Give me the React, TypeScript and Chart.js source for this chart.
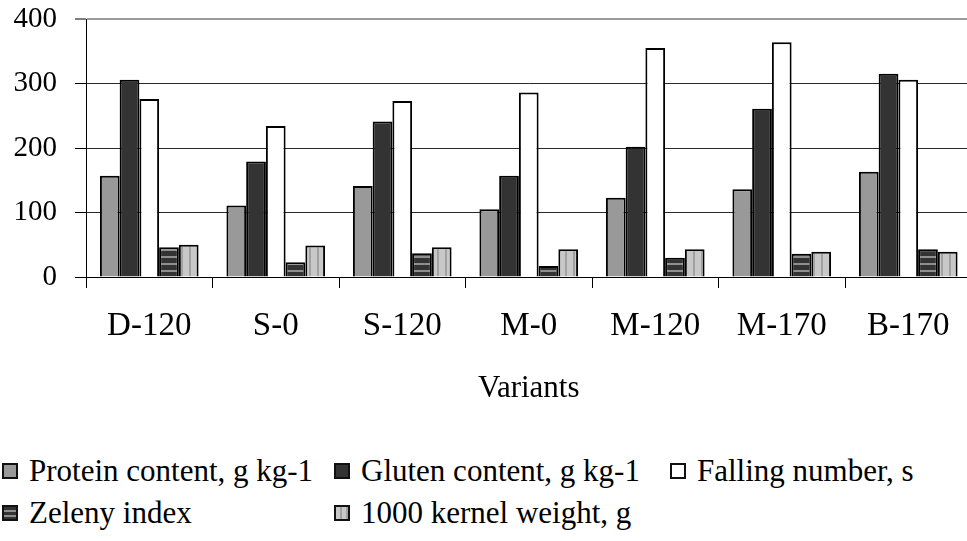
import React, { useEffect, useRef } from "react";
import { Chart, registerables } from "chart.js";

Chart.register(...registerables);

const categories = ["D-120", "S-0", "S-120", "M-0", "M-120", "M-170", "B-170"];
const protein = [157, 111, 141, 105, 123, 136, 163];
const gluten = [306, 179, 241, 157, 202, 261, 315];
const fallingNumber = [276, 234, 273, 286, 355, 364, 306];
const zeleny = [46, 23, 37, 17, 30, 36, 43];
const kernelWeight = [50, 49, 46, 43, 43, 39, 39];
const seriesNames = [
  "Protein content, g kg-1",
  "Gluten content, g kg-1",
  "Falling number, s",
  "Zeleny index",
  "1000 kernel weight, g",
];
const yMin = 0;
const yMax = 400;
const yStep = 100;
const xTitle = "Variants";

const FONT = '"Liberation Serif", "Times New Roman", serif';

function makePattern(kind: "h" | "v"): CanvasPattern | string {
  const c = document.createElement("canvas");
  if (kind === "h") {
    c.width = 6;
    c.height = 7;
    const g = c.getContext("2d")!;
    g.fillStyle = "#333333";
    g.fillRect(0, 0, 6, 7);
    g.fillStyle = "#8f8f8f";
    g.fillRect(0, 4, 6, 2);
    return g.createPattern(c, "repeat") || "#333";
  }
  c.width = 8;
  c.height = 6;
  const g = c.getContext("2d")!;
  g.fillStyle = "#c8c8c8";
  g.fillRect(0, 0, 8, 6);
  g.fillStyle = "#a2a2a2";
  g.fillRect(5, 0, 2, 6);
  return g.createPattern(c, "repeat") || "#c0c0c0";
}

const legendSwatches: React.CSSProperties[] = [
  { background: "#999999" },
  { background: "#333333" },
  { background: "#ffffff" },
  { background: "repeating-linear-gradient(to bottom, #333 0px, #333 3px, #8f8f8f 3px, #8f8f8f 5px)" },
  { background: "repeating-linear-gradient(to right, #c8c8c8 0px, #c8c8c8 4px, #a2a2a2 4px, #a2a2a2 6px)" },
];

const legendPos = [
  { x: 2, y: 471 },
  { x: 334, y: 471 },
  { x: 670, y: 471 },
  { x: 2, y: 513 },
  { x: 334, y: 513 },
];

export default function App() {
  const ref = useRef<HTMLCanvasElement | null>(null);

  useEffect(() => {
    if (!ref.current) return;
    const hPat = makePattern("h");
    const vPat = makePattern("v");
    const fills = ["#999999", "#333333", "#ffffff", hPat, vPat];
    const values = [protein, gluten, fallingNumber, zeleny, kernelWeight];
    const chart = new Chart(ref.current, {
      type: "bar",
      data: {
        labels: categories,
        datasets: values.map((v, i) => ({
          label: seriesNames[i],
          data: v,
          backgroundColor: fills[i] as any,
          borderColor: "#000000",
          borderWidth: 2,
          categoryPercentage: 0.78,
          barPercentage: 1.0,
        })),
      },
      options: {
        animation: false,
        responsive: false,
        devicePixelRatio: 1,
        layout: { padding: { top: 19, right: 3.5, left: 0, bottom: 0 } },
        plugins: {
          legend: { display: false },
          tooltip: { enabled: false },
          title: { display: false },
        },
        scales: {
          x: {
            grid: {
              offset: true,
              drawOnChartArea: false,
              drawTicks: true,
              tickLength: 11,
              tickColor: "#000000",
              tickWidth: 1,
            },
            border: { display: true, color: "#000000", width: 1 },
            ticks: {
              color: "#000000",
              font: { family: FONT, size: 33 },
              padding: 19,
              maxRotation: 0,
              autoSkip: false,
            },
            title: {
              display: true,
              text: xTitle,
              color: "#000000",
              font: { family: FONT, size: 31 },
              padding: { top: 0, bottom: 0 },
            },
            afterFit: (s: any) => {
              s.height = 130;
              s.paddingLeft = 0;
              s.paddingRight = 0;
            },
          },
          y: {
            min: yMin,
            max: yMax,
            ticks: {
              stepSize: yStep,
              color: "#000000",
              font: { family: FONT, size: 29 },
              padding: 18,
            },
            grid: {
              color: (c: any) => (c.tick && c.tick.value === yMax ? "#9a9a9a" : "#2a2a2a"),
              lineWidth: (c: any) => (c.tick && c.tick.value === yMax ? 2 : 1),
              drawTicks: true,
              tickLength: 11,
              tickColor: "#000000",
              tickWidth: 1,
            },
            border: { display: true, color: "#000000", width: 1 },
            afterFit: (s: any) => {
              s.width = 86;
              s.paddingTop = 0;
              s.paddingBottom = 0;
            },
          },
        },
      },
    });
    return () => chart.destroy();
  }, []);

  return (
    <div
      style={{
        position: "fixed",
        left: 0,
        top: 0,
        width: 967,
        height: 541,
        overflow: "hidden",
        background: "#ffffff",
      }}
    >
      <canvas
        ref={ref}
        width={975}
        height={407}
        style={{ position: "absolute", left: 0, top: 0, width: 975, height: 407 }}
      />
      {seriesNames.map((name, i) => (
        <div
          key={name}
          style={{
            position: "absolute",
            left: legendPos[i].x,
            top: legendPos[i].y - 20,
            height: 40,
            display: "flex",
            alignItems: "center",
            whiteSpace: "nowrap",
            fontFamily: FONT,
            fontSize: 31,
            lineHeight: "40px",
            color: "#000",
          }}
        >
          <span
            style={{
              display: "inline-block",
              width: 16,
              height: 16,
              boxSizing: "border-box",
              border: "2px solid #111",
              marginRight: 11,
              ...legendSwatches[i],
            }}
          />
          <span>{name}</span>
        </div>
      ))}
    </div>
  );
}
